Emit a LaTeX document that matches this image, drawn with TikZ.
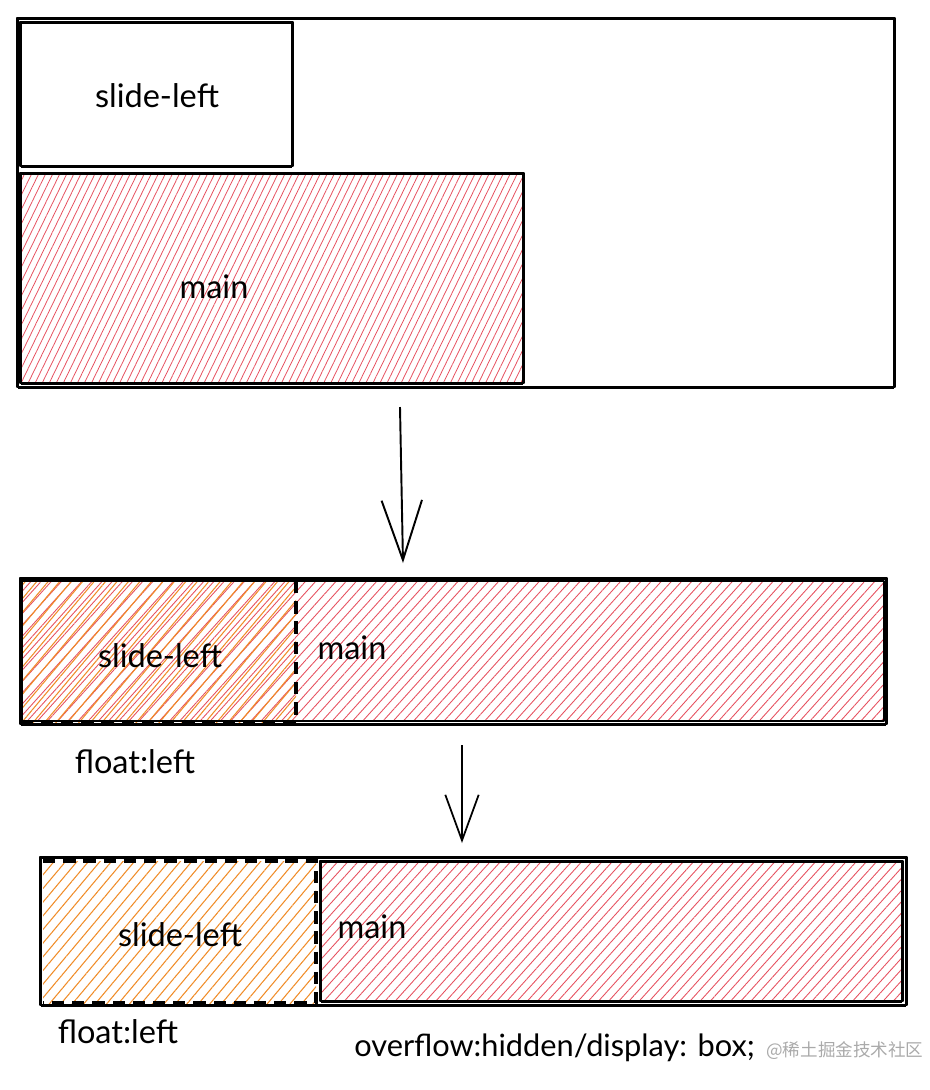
\documentclass[tikz,border=0pt]{standalone}
\usepackage{fontspec}
\setmainfont{Lato}
\newfontfamily\cjkfont{Noto Sans CJK SC}
\usepackage{tikz}
\usetikzlibrary{arrows.meta,positioning,calc,patterns.meta}
\definecolor{hatchred}{RGB}{230,80,95}
\definecolor{hatchorange}{RGB}{240,140,40}
\definecolor{markgray}{RGB}{170,170,170}
\tikzset{
  frame/.style={line width=1.5pt, line join=round},
  thinframe/.style={line width=0.6pt},
  redsteep/.style={pattern={Lines[angle=64,distance=3.6pt,line width=0.45pt]}, pattern color=hatchred},
  redhatch/.style={pattern={Lines[angle=48,distance=4.3pt,line width=0.5pt]}, pattern color=hatchred},
  orangehatch/.style={pattern={Lines[angle=50,distance=5pt,line width=0.6pt]}, pattern color=hatchorange},
  dashedge/.style={line width=1.9pt, dash pattern=on 7pt off 4.5pt},
  flowbig/.style={-{Straight Barb[length=34pt,width=23pt]}, line width=1.1pt},
  flowsmall/.style={-{Straight Barb[length=26pt,width=19pt]}, line width=1pt},
  lbl/.style={font=\fontsize{18.5}{21}\selectfont, inner sep=0pt},
}
% rough box: a heavy stroke and a light second stroke beside it
\newcommand{\skrect}[2]{%
  \draw[frame] #1 rectangle #2;
  \draw[thinframe] ($#1+(1.5,1.5)$) rectangle ($#2+(-1.5,1.5)$);
}

\begin{document}
\begin{tikzpicture}[x=0.02cm, y=-0.02cm]
  \useasboundingbox (0,0) rectangle (930,1090);

  % --- first state
  \coordinate (outA1) at (17,18);   \coordinate (outA2) at (895,387);
  \coordinate (slA1) at (20,22);    \coordinate (slA2) at (293,166);
  \coordinate (mnA1) at (20,173);   \coordinate (mnA2) at (524,383);
  \fill[redsteep] (mnA1) rectangle (mnA2);
  \skrect{(outA1)}{(outA2)}
  \skrect{(slA1)}{(slA2)}
  \skrect{(mnA1)}{(mnA2)}
  \node[lbl] (slideA) at (157,96) {slide-left};
  \node[lbl] (mainA) at (214,287) {main};

  % arrow down
  \coordinate (arA1) at (400,407);  \coordinate (arA2) at (403,563);
  \draw[flowbig] (arA1) -- (arA2);

  % --- second state
  \coordinate (outB1) at (20,578);  \coordinate (outB2) at (887,724);
  \coordinate (slB1) at (22,581);   \coordinate (slB2) at (296,722);
  \coordinate (mnB2) at (884,721);
  \fill[redhatch] (slB1) rectangle (mnB2);
  \fill[orangehatch] (slB1) rectangle (slB2);
  \skrect{(outB1)}{(outB2)}
  \draw[frame] (slB1 |- mnB2) -- (mnB2) -- (mnB2 |- slB1) -- (slB1) -- cycle;
  \draw[dashedge] (slB2 |- slB1) -- (slB2) -- (slB1 |- slB2);
  \node[lbl] (slideB) at (160,656) {slide-left};
  \node[lbl] (mainB) at (352,648) {main};
  \node[lbl] (floatB) at (135,762) {float:left};

  % arrow down
  \coordinate (arB1) at (462,745);  \coordinate (arB2) at (462,843);
  \draw[flowsmall] (arB1) -- (arB2);

  % --- third state
  \coordinate (outC1) at (40,857);  \coordinate (outC2) at (907,1005);
  \coordinate (slC1) at (43,861);   \coordinate (slC2) at (316,1003);
  \coordinate (mnC1) at (320,861);  \coordinate (mnC2) at (903,1001);
  \fill[orangehatch] (slC1) rectangle (slC2);
  \fill[redhatch] (mnC1) rectangle (mnC2);
  \skrect{(outC1)}{(outC2)}
  \skrect{(mnC1)}{(mnC2)}
  \draw[dashedge] (slC1) -- (slC2 |- slC1) -- (slC2) -- (slC1 |- slC2);
  \node[lbl] (slideC) at (180,935) {slide-left};
  \node[lbl] (mainC) at (372,927) {main};
  \node[lbl] (floatC) at (118,1032) {float:left};
  \node[lbl, font=\fontsize{17.5}{21}\selectfont, anchor=west] (boxnote) at (354,1048) {overflow:hidden/display: box;};
  \node[font=\cjkfont\fontsize{10}{12}\selectfont, text=markgray, anchor=west, inner sep=0pt]
    (mark) at (766,1051) {@稀土掘金技术社区};
\end{tikzpicture}
\end{document}
